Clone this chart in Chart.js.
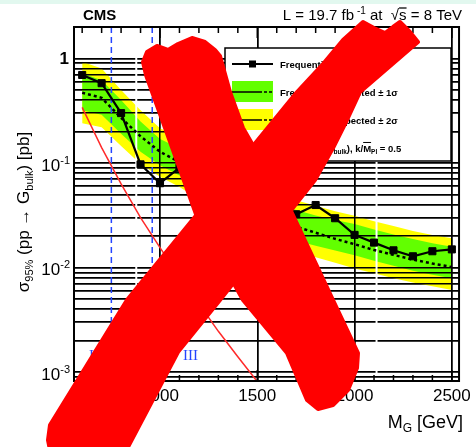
<!DOCTYPE html>
<html>
<head>
<meta charset="utf-8">
<script src="https://cdn.jsdelivr.net/npm/chart.js@4.4.1/dist/chart.umd.min.js"></script>
<style>
  html, body { margin: 0; padding: 0; background: #ffffff; }
  canvas { display: block; }
</style>
</head>
<body>
<canvas id="chart" width="476" height="447"></canvas>
<script>
// Graviton mass points [GeV]
const massPoints = [600, 700, 800, 900, 1000, 1100, 1200, 1300, 1400, 1500,
                    1600, 1700, 1800, 1900, 2000, 2100, 2200, 2300, 2400, 2500];

// 95% CL limits on cross section [pb]
const observedLimit = [0.695, 0.58, 0.30, 0.097, 0.064, 0.09, 0.08, 0.068, 0.052, 0.043,
                       0.036, 0.0323, 0.0396, 0.0296, 0.0205, 0.0173, 0.0146, 0.0128, 0.0143, 0.0149];
const expectedLimit = [0.47, 0.42, 0.27, 0.18, 0.128, 0.102, 0.078, 0.060, 0.046, 0.036,
                       0.029, 0.0245, 0.0215, 0.0188, 0.0167, 0.0147, 0.0132, 0.0119, 0.0109, 0.0101];
const expectedPlus2 = [0.93, 0.80, 0.50, 0.32, 0.215, 0.175, 0.138, 0.107, 0.082, 0.064,
                       0.051, 0.044, 0.039, 0.0345, 0.0312, 0.0277, 0.0249, 0.0224, 0.0205, 0.019];
const expectedPlus1 = [0.72, 0.62, 0.40, 0.25, 0.17, 0.138, 0.108, 0.084, 0.065, 0.051,
                       0.041, 0.0355, 0.0315, 0.0285, 0.026, 0.0231, 0.0207, 0.0187, 0.0171, 0.0158];
const expectedMinus1 = [0.32, 0.29, 0.19, 0.128, 0.095, 0.076, 0.058, 0.044, 0.034, 0.027,
                        0.0215, 0.018, 0.0161, 0.0145, 0.0131, 0.0116, 0.0104, 0.0093, 0.0085, 0.0079];
const expectedMinus2 = [0.24, 0.22, 0.145, 0.098, 0.074, 0.059, 0.045, 0.034, 0.026, 0.0205,
                        0.0165, 0.014, 0.0125, 0.0111, 0.0098, 0.0088, 0.0079, 0.0072, 0.0066, 0.0061];

// Theory cross section, k/MPl = 0.5
const theoryMass = [600, 700, 800, 900, 1000, 1100, 1200, 1300, 1400, 1500, 1600];
const theoryXsec = [0.34, 0.14, 0.063, 0.030, 0.0155, 0.0081, 0.0045, 0.00245, 0.0014, 0.00081, 0.00046];

// Analysis regions
const regionEdges = [750, 960];
const regionLabels = ['I', 'II', 'III'];
const regionLabelMass = [648, 855, 1157];
const regionLabelY = 0.0013;

// Axes
const X_MIN = 558;
const X_MAX = 2537;
const Y_MIN = 8.2e-4;
const Y_MAX = 2;
const xTickValues = [1000, 1500, 2000, 2500];
const yLabelValues = [1, 0.1, 0.01, 0.001];
const yLabelExponents = ['', '-1', '-2', '-3'];
const gapLineMass = [878, 2113];

// Red cross painted over the image (canvas pixels)
const crossStrokeA = [[143, 62], [147, 52], [157, 46], [168, 50], [178, 44], [192, 38], [205, 42],
                      [215, 50], [220, 56], [230, 92], [243, 128], [292, 213], [333, 300], [358, 353],
                      [357, 368], [348, 390], [333, 405], [318, 409], [307, 400], [287, 353],
                      [243, 300], [197, 217], [173, 150], [146, 75]];
const crossStrokeB = [[343, 40], [363, 22], [374, 28], [385, 33], [393, 27], [400, 22], [410, 32],
                      [418, 42], [360, 92], [347, 120], [333, 148], [315, 180], [220, 300],
                      [178, 352], [128, 447], [126, 460], [52, 460], [48, 440], [50, 425],
                      [127, 300], [297, 92], [323, 64]];

const FONT = '"Liberation Sans", Arial, Helvetica, sans-serif';
const GREEN = '#62ff00';
const YELLOW = '#ffff00';
const THEORY_RED = '#ff2a2a';
const REGION_BLUE = '#2444ff';

const toPoints = (xs, ys) => xs.map((x, i) => ({ x: x, y: ys[i] }));

// Draw a run of text pieces (sub/superscripts, overlines) starting from x
function drawRich(ctx, parts, x, y, align) {
    let total = 0;
    parts.forEach(p => {
        ctx.font = (p.bold ? 'bold ' : '') + p.size + 'px ' + FONT;
        p.w = ctx.measureText(p.t).width;
        total += p.w;
    });
    let cx = x;
    if (align === 'right') cx = x - total;
    if (align === 'center') cx = x - total / 2;
    ctx.textAlign = 'left';
    ctx.textBaseline = 'alphabetic';
    parts.forEach(p => {
        ctx.font = (p.bold ? 'bold ' : '') + p.size + 'px ' + FONT;
        ctx.fillText(p.t, cx, y + (p.dy || 0));
        if (p.over) {
            const oy = y + (p.dy || 0) - p.size * (p.overAt || 0.78);
            ctx.beginPath();
            ctx.lineWidth = Math.max(1, p.size / 12);
            ctx.moveTo(cx, oy);
            ctx.lineTo(cx + p.w, oy);
            ctx.stroke();
        }
        cx += p.w;
    });
}

function fillShape(ctx, pts) {
    ctx.beginPath();
    pts.forEach(([x, y], i) => (i ? ctx.lineTo(x, y) : ctx.moveTo(x, y)));
    ctx.closePath();
    ctx.fill();
    ctx.stroke();
}

const decorPlugin = {
    id: 'decor',
    beforeDraw(chart) {
        const ctx = chart.ctx;
        ctx.save();
        ctx.fillStyle = '#ffffff';
        ctx.fillRect(0, 0, chart.width, chart.height);
        ctx.fillStyle = '#e2f8ef';
        ctx.fillRect(0, 0, chart.width, 4);
        ctx.restore();
    },
    afterDatasetDraw(chart, args) {
        // grid goes on top of the bands, below the curves
        if (args.index !== 2) return;
        const { ctx, chartArea, scales } = chart;
        scales.x.drawGrid(chartArea);
        scales.y.drawGrid(chartArea);
        ctx.save();
        ctx.strokeStyle = '#ffffff';
        ctx.lineWidth = 2;
        gapLineMass.forEach(m => {
            const px = scales.x.getPixelForValue(m);
            ctx.beginPath();
            ctx.moveTo(px, chartArea.top + 8);
            ctx.lineTo(px, chartArea.bottom - 8);
            ctx.stroke();
        });
        ctx.strokeStyle = REGION_BLUE;
        ctx.lineWidth = 1.5;
        ctx.setLineDash([6, 4]);
        regionEdges.forEach(m => {
            const px = scales.x.getPixelForValue(m);
            ctx.beginPath();
            ctx.moveTo(px, chartArea.top);
            ctx.lineTo(px, chartArea.bottom);
            ctx.stroke();
        });
        ctx.restore();
    },
    afterDraw(chart) {
        const { ctx, chartArea, scales } = chart;
        const { left, right, top, bottom } = chartArea;
        ctx.save();

        // frame
        ctx.strokeStyle = '#000';
        ctx.lineWidth = 2;
        ctx.strokeRect(left, top, right - left, bottom - top);

        // inward ticks, top and bottom
        ctx.lineWidth = 1.5;
        for (let m = 600; m <= 2500; m += 100) {
            const px = scales.x.getPixelForValue(m);
            const len = m % 500 === 0 ? 11 : 6;
            ctx.beginPath();
            ctx.moveTo(px, bottom); ctx.lineTo(px, bottom - len);
            ctx.moveTo(px, top); ctx.lineTo(px, top + len);
            ctx.stroke();
        }

        // y tick labels
        ctx.fillStyle = '#000';
        yLabelValues.forEach((v, i) => {
            const py = scales.y.getPixelForValue(v);
            if (!yLabelExponents[i]) {
                drawRich(ctx, [{ t: '1', size: 17, bold: true }], 69, py + 6, 'right');
            } else {
                drawRich(ctx, [{ t: '10', size: 17 }, { t: yLabelExponents[i], size: 11, dy: -7 }], 70, py + 8, 'right');
            }
        });

        // axis titles
        drawRich(ctx, [{ t: 'M', size: 18 }, { t: 'G', size: 12, dy: 4 }, { t: ' [GeV]', size: 18 }], 463, 428, 'right');
        ctx.save();
        ctx.translate(29, 212);
        ctx.rotate(-Math.PI / 2);
        drawRich(ctx, [
            { t: '\u03c3', size: 17 }, { t: '95%', size: 11, dy: 4 },
            { t: ' (pp \u2192 G', size: 17 }, { t: 'bulk', size: 11, dy: 4 },
            { t: ') [pb]', size: 17 }
        ], 0, 0, 'center');
        ctx.restore();

        // header
        drawRich(ctx, [{ t: 'CMS', size: 15, bold: true }], 83, 20, 'left');
        ctx.strokeStyle = '#000';
        drawRich(ctx, [
            { t: 'L = 19.7 fb', size: 15 }, { t: ' -1', size: 10, dy: -6 },
            { t: ' at  ', size: 15 }, { t: '\u221a', size: 15 },
            { t: 's', size: 15, over: true, overAt: 0.8 }, { t: ' = 8 TeV', size: 15 }
        ], 462, 20, 'right');

        // region labels
        ctx.fillStyle = REGION_BLUE;
        ctx.font = '15px "Liberation Serif", serif';
        ctx.textAlign = 'center';
        regionLabels.forEach((lab, i) => {
            ctx.fillText(lab, scales.x.getPixelForValue(regionLabelMass[i]), scales.y.getPixelForValue(regionLabelY));
        });

        // legend
        const lx = 225, ly = 48, lw = 226, lh = 113;
        ctx.fillStyle = '#fff';
        ctx.fillRect(lx, ly, lw, lh);
        ctx.strokeStyle = '#000';
        ctx.lineWidth = 1.5;
        ctx.strokeRect(lx, ly, lw, lh);
        const sx0 = 232, sx1 = 273, tx = 280;
        const rows = [64, 92, 120, 148];
        // observed
        ctx.lineWidth = 2;
        ctx.beginPath(); ctx.moveTo(sx0, rows[0]); ctx.lineTo(sx1, rows[0]); ctx.stroke();
        ctx.fillStyle = '#000';
        ctx.fillRect(249, rows[0] - 3.5, 7, 7);
        // bands
        [[GREEN, rows[1]], [YELLOW, rows[2]]].forEach(([col, ry]) => {
            ctx.fillStyle = col;
            ctx.fillRect(sx0, ry - 11, sx1 - sx0, 21);
            ctx.strokeStyle = '#000';
            ctx.lineWidth = 1.5;
            ctx.setLineDash([30, 2, 3, 2, 3, 12]);
            ctx.beginPath(); ctx.moveTo(sx0, ry); ctx.lineTo(sx1, ry); ctx.stroke();
            ctx.setLineDash([]);
        });
        // theory
        ctx.strokeStyle = THEORY_RED;
        ctx.lineWidth = 1.5;
        ctx.beginPath(); ctx.moveTo(sx0, rows[3]); ctx.lineTo(sx1, rows[3]); ctx.stroke();
        ctx.fillStyle = '#000';
        ctx.strokeStyle = '#000';
        drawRich(ctx, [{ t: 'Frequentist observed', size: 9.5, bold: true }], tx, rows[0] + 3.5, 'left');
        drawRich(ctx, [{ t: 'Frequentist expected \u00b1 1\u03c3', size: 9.5, bold: true }], tx, rows[1] + 3.5, 'left');
        drawRich(ctx, [{ t: 'Frequentist expected \u00b1 2\u03c3', size: 9.5, bold: true }], tx, rows[2] + 3.5, 'left');
        drawRich(ctx, [
            { t: '\u03c3(pp \u2192 G', size: 9.5, bold: true }, { t: 'bulk', size: 6.5, bold: true, dy: 2.5 },
            { t: '), k/', size: 9.5, bold: true }, { t: 'M', size: 9.5, bold: true, over: true, overAt: 0.95 },
            { t: 'Pl', size: 6.5, bold: true, dy: 2.5 }, { t: ' = 0.5', size: 9.5, bold: true }
        ], tx + 10, rows[3] + 3.5, 'left');

        // red cross over the picture
        ctx.fillStyle = '#ff0000';
        ctx.strokeStyle = '#ff0000';
        ctx.lineJoin = 'round';
        ctx.lineWidth = 4;
        fillShape(ctx, crossStrokeA);
        fillShape(ctx, crossStrokeB);

        ctx.restore();
    }
};

const lineDefaults = { pointRadius: 0, tension: 0, borderWidth: 0 };

new Chart(document.getElementById('chart'), {
    type: 'line',
    data: {
        datasets: [
            { ...lineDefaults, label: 'Expected +2 sigma', data: toPoints(massPoints, expectedPlus2),
              fill: 1, backgroundColor: YELLOW, borderColor: YELLOW, order: 10 },
            { ...lineDefaults, label: 'Expected -2 sigma', data: toPoints(massPoints, expectedMinus2),
              fill: false, borderColor: YELLOW, order: 10 },
            { ...lineDefaults, label: 'Expected +1 sigma', data: toPoints(massPoints, expectedPlus1),
              fill: 3, backgroundColor: GREEN, borderColor: GREEN, order: 8 },
            { ...lineDefaults, label: 'Expected -1 sigma', data: toPoints(massPoints, expectedMinus1),
              fill: false, borderColor: GREEN, order: 8 },
            { label: 'Frequentist expected', data: toPoints(massPoints, expectedLimit),
              borderColor: '#000', borderWidth: 2.5, borderDash: [3, 3], pointRadius: 0,
              fill: false, tension: 0, order: 3 },
            { label: 'Theory', data: toPoints(theoryMass, theoryXsec),
              borderColor: THEORY_RED, borderWidth: 1.5, pointRadius: 0, fill: false, tension: 0, order: 2 },
            { label: 'Frequentist observed', data: toPoints(massPoints, observedLimit),
              borderColor: '#000', borderWidth: 2.2, pointStyle: 'rect', pointRadius: 5,
              pointBackgroundColor: '#000', pointBorderColor: '#000', pointBorderWidth: 1,
              fill: false, tension: 0, order: 1 }
        ]
    },
    options: {
        responsive: false,
        animation: false,
        devicePixelRatio: 1,
        layout: { padding: { top: 27, right: 13, bottom: 0, left: 0 } },
        plugins: {
            legend: { display: false },
            tooltip: { enabled: false },
            title: { display: false }
        },
        scales: {
            x: {
                type: 'linear',
                min: X_MIN,
                max: X_MAX,
                afterBuildTicks: (scale) => { scale.ticks = xTickValues.map(v => ({ value: v })); },
                afterFit: (scale) => { scale.height = 66; },
                grid: { color: '#000', lineWidth: 1.5, drawTicks: false },
                border: { display: false },
                ticks: {
                    autoSkip: false,
                    maxRotation: 0,
                    padding: 5,
                    color: '#000',
                    font: { family: FONT, size: 17 },
                    callback: (v) => String(v)
                }
            },
            y: {
                type: 'logarithmic',
                min: Y_MIN,
                max: Y_MAX,
                afterBuildTicks: (scale) => {
                    const ticks = [];
                    for (let e = -4; e <= 0; e++) {
                        for (let m = 1; m <= 9; m++) {
                            const v = m * Math.pow(10, e);
                            if (v >= Y_MIN && v <= Y_MAX) ticks.push({ value: v });
                        }
                    }
                    scale.ticks = ticks;
                },
                afterFit: (scale) => { scale.width = 74; },
                grid: { color: '#000', lineWidth: 1.5, drawTicks: false },
                border: { display: false },
                ticks: { display: false }
            }
        }
    },
    plugins: [decorPlugin]
});
</script>
</body>
</html>
